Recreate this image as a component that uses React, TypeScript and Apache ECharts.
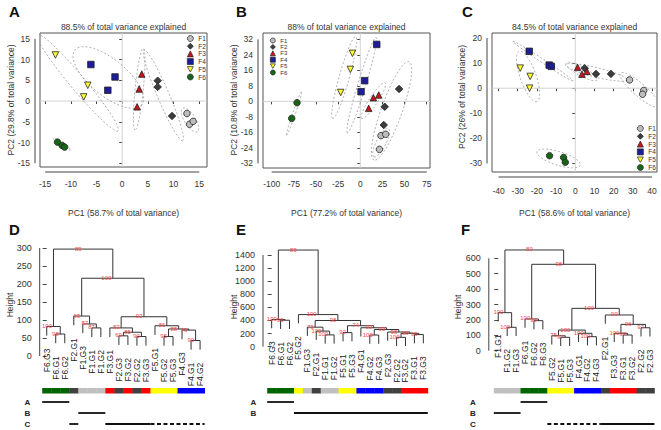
import React, { useEffect, useRef } from "react";
import * as echarts from "echarts";

const FONT = "Liberation Sans, Arial, Helvetica, sans-serif";

// ---------- groups ----------
const GROUPS = ["F1", "F2", "F3", "F4", "F5", "F6"];
const GROUP_FILL = ["#bdbdbd", "#3c3c3c", "#c4161c", "#1d1d9b", "#ffff33", "#176617"];
const GROUP_SYMBOL = ["circle", "diamond", "triangle", "rect", "path://M0,0 L10,0 L5,9 Z", "circle"];
const BAR_COLORS = ["#c0c0c0", "#404040", "#ff0000", "#0000ff", "#ffff00", "#006400"];

// ---------- PCA scores (PC1, PC2) per group F1..F6 ----------
const scoresA_F1 = [[12.6, -3.0], [13.1, -5.6], [13.8, -4.9]];
const scoresA_F2 = [[6.9, 4.9], [6.9, 3.4], [9.7, -3.6]];
const scoresA_F3 = [[3.8, 6.5], [3.3, 2.9], [2.9, -1.4]];
const scoresA_F4 = [[-6.1, 8.8], [-1.4, 5.8], [-2.8, 2.6]];
const scoresA_F5 = [[-13.0, 11.1], [-6.7, 3.8], [-7.5, 1.0]];
const scoresA_F6 = [[-12.6, -9.9], [-11.7, -10.7], [-11.2, -11.1]];

const scoresB_F1 = [[23.4, -17.7], [28.7, -17.0], [21.6, -24.8]];
const scoresB_F2 = [[43.8, 6.4], [27.6, -2.8], [26.5, -12.2]];
const scoresB_F3 = [[9.5, -3.6], [14.8, 1.9], [20.8, 3.3]];
const scoresB_F4 = [[18.6, 29.4], [5.0, 10.7], [0.9, 5.0]];
const scoresB_F5 = [[-8.9, 24.8], [-11.2, 16.5], [-22.1, 4.6]];
const scoresB_F6 = [[-71.4, -0.7], [-77.4, -8.8]];

const scoresC_F1 = [[28.3, 3.3], [35.7, -0.9], [35.1, -2.4]];
const scoresC_F2 = [[4.9, 8.0], [10.8, 5.7], [18.6, 5.7]];
const scoresC_F3 = [[1.2, 8.3], [3.5, 5.6], [6.1, 6.7]];
const scoresC_F4 = [[-24.0, 14.7], [-13.6, 9.2], [-12.5, 8.7]];
const scoresC_F5 = [[-28.7, 8.0], [-23.5, 4.7], [-23.8, 0.0]];
const scoresC_F6 = [[-13.4, -26.9], [-6.1, -27.6], [-5.2, -29.5]];

// confidence ellipses: major-axis end points (x1,y1,x2,y2) and minor/major ratio
const ellipsesA = [
  [-16.5, 16.0, -0.8, -7.2, 0.12],
  [-9.2, 12.3, 3.8, -0.95, 0.42],
  [4.1, 12.7, 2.5, -7.0, 0.1],
  [4.24, 12.3, 11.77, -9.56, 0.12],
  [11.77, -1.75, 14.62, -7.39, 0.4],
  [-13.41, -8.98, -10.02, -11.8, 0.15],
];
const ellipsesB = [
  [-66.1, 5.3, -83.1, -17.4, 0.06],
  [-5.2, 33.4, -31.1, -8.8, 0.12],
  [17.8, 33.0, -14.6, -16.2, 0.08],
  [28.0, 9.6, 1.6, -8.8, 0.2],
  [55.1, 20.5, 15.5, -30.3, 0.2],
  [31.7, -13.9, 15.5, -28.6, 0.3],
];
const ellipsesC = [
  [-32.5, 18.7, -1.2, 2.9, 0.05],
  [-29.2, 14.7, -20.0, -5.3, 0.3],
  [-4.7, 10.0, 11.3, 3.3, 0.25],
  [-5.2, 9.3, 27.0, 3.3, 0.15],
  [23.5, 6.0, 43.5, -7.3, 0.25],
  [-20.0, -25.3, 2.6, -30.7, 0.3],
];

// ---------- texts ----------
const panelLetters = ["A", "B", "C", "D", "E", "F"];
const pcaTitles = [
  "88.5% of total variance explained",
  "88% of total variance explained",
  "84.5% of total variance explained",
];
const pc1Labels = [
  "PC1 (58.7% of total variance)",
  "PC1 (77.2% of total variance)",
  "PC1 (58.6% of total variance)",
];
const pc2Labels = [
  "PC2 (29.8% of total variance)",
  "PC2 (10.8% of total variance)",
  "PC2 (26% of total variance)",
];

// ---------- tick labels ----------
const ticksAx = [-15, -10, -5, 0, 5, 10, 15];
const ticksAy = [-15, -10, -5, 0, 5, 10, 15];
const ticksBx = [-100, -75, -50, -25, 0, 25, 50, 75];
const ticksBy = [-32, -24, -16, -8, 0, 8, 16, 24, 32];
const ticksCx = [-40, -30, -20, -10, 0, 10, 20, 30, 40];
const ticksCy = [-30, -20, -10, 0, 10, 20];
const ticksD = [0, 50, 100, 150, 200, 250, 300];
const ticksE = [0, 200, 400, 600, 800, 1000, 1200, 1400];
const ticksF = [0, 100, 200, 300, 400, 500, 600];

// ---------- dendrograms: [height, AU bootstrap, left, right] ----------
type TNode = string | [number, number, TNode, TNode];

const treeD: TNode = [297, 89,
  [82, 100, "F6.G3", [61, 98, "F6.G1", "F6.G2"]],
  [216, 100,
    [111, 93, "F2.G1", [89, 87, "F1.G3", [78, 87, "F1.G1", "F1.G2"]]],
    [109, 93,
      [78, 83, "F3.G1", [66, 85, [56, 69, "F2.G3", "F3.G2"], [54, 90, "F2.G2", "F3.G3"]]],
      [84, 86, "F5.G1", [75, 88, [54, 95, "F5.G2", "F5.G3"], [72, 76, "F4.G3", [43, 90, "F4.G1", "F4.G2"]]]],
    ],
  ],
];

const treeE: TNode = [1475, 89,
  [414, 100, "F6.G3", [404, 95, "F6.G1", "F6.G2"]],
  [490, 100, "F5.G2",
    [400, 98,
      [298, 73, "F1.G3", [238, 100, "F2.G1", [180, 100, "F1.G1", "F1.G2"]]],
      [320, 74, [215, 92, "F5.G1", "F5.G3"],
        [289, 93, "F4.G1",
          [262, 93, [178, 100, "F4.G2", "F4.G3"],
            [224, 98, "F2.G3", [204, 98, [143, 100, "F2.G2", "F3.G2"], [185, 98, "F3.G1", "F3.G3"]]],
          ],
        ],
      ],
    ],
  ],
];

const treeF: TNode = [654, 89,
  [247, 100, "F1.G1", [152, 100, "F1.G2", "F1.G3"]],
  [561, 98,
    [206, 100, "F6.G1", [195, 99, "F6.G2", "F6.G3"]],
    [275, 100,
      [134, 100, [97, 75, "F5.G2", [87, 97, "F5.G1", "F5.G3"]], [113, 100, "F4.G1", [91, 100, "F4.G2", "F4.G3"]]],
      [232, 99, "F2.G1", [171, 96, [113, 100, "F3.G3", [102, 97, "F3.G1", "F3.G2"]], [149, 97, "F2.G2", "F2.G3"]]],
    ],
  ],
];

// ---------- cluster membership lines: [row, first leaf, last leaf, dashed] ----------
const rowsD = ["A", "B", "C"];
const clusterLinesD: [string, number, number, number][] = [
  ["A", 0, 2, 0], ["B", 4, 6, 0], ["C", 3, 3, 0], ["C", 7, 11, 0], ["C", 12, 17, 1],
];
const rowsE = ["A", "B"];
const clusterLinesE: [string, number, number, number][] = [["A", 0, 2, 0], ["B", 3, 17, 0]];
const rowsF = ["A", "B", "C"];
const clusterLinesF: [string, number, number, number][] = [
  ["A", 3, 5, 0], ["B", 0, 2, 0], ["C", 6, 11, 1], ["C", 12, 17, 0],
];

// ---------- layout (positions only) ----------
const SCATTER = [
  { left: 40, top: 33, width: 167, height: 134, xr: [-16, 16.5], yr: [-15.9, 16.4], xt: ticksAx, yt: ticksAy,
    scores: [scoresA_F1, scoresA_F2, scoresA_F3, scoresA_F4, scoresA_F5, scoresA_F6], ell: ellipsesA,
    xOff: 5, yOff: 5, xMargin: 7.5, legend: { left: 187, top: 35, gap: 0.7, size: 6, font: 6.5 }, ylabX: 11, ylabY: 100 },
  { left: 263, top: 33, width: 167, height: 135, xr: [-109.8, 78.7], yr: [-34.4, 35.3], xt: ticksBx, yt: ticksBy,
    scores: [scoresB_F1, scoresB_F2, scoresB_F3, scoresB_F4, scoresB_F5, scoresB_F6], ell: ellipsesB,
    xOff: 4, yOff: 5, xMargin: 7.5, legend: { left: 270, top: 37.5, gap: 0.4, size: 5, font: 6 }, ylabX: 234, ylabY: 100 },
  { left: 492, top: 33, width: 165, height: 139, xr: [-43.4, 42.6], yr: [-33.4, 22], xt: ticksCx, yt: ticksCy,
    scores: [scoresC_F1, scoresC_F2, scoresC_F3, scoresC_F4, scoresC_F5, scoresC_F6], ell: ellipsesC,
    xOff: 5, yOff: 5, xMargin: 9, legend: { left: 637, top: 125, gap: 0.8, size: 6, font: 6.5 }, ylabX: 462, ylabY: 97 },
];

const DENDRO = [
  { tree: treeD, left: 42.2, top: 248, width: 162.4, height: 108, ymax: 300, ticks: ticksD, yOff: 2.5,
    rows: rowsD, lines: clusterLinesD, rowMargin: 12, heightX: 10, heightY: 305 },
  { tree: treeE, left: 267.2, top: 248.4, width: 160.6, height: 98.3, ymax: 1500, ticks: ticksE, yOff: 4.2,
    rows: rowsE, lines: clusterLinesE, rowMargin: 11, heightX: 234, heightY: 307 },
  { tree: treeF, left: 493.8, top: 242.9, width: 160.6, height: 107.8, ymax: 700, ticks: ticksF, yOff: 5,
    rows: rowsF, lines: clusterLinesF, rowMargin: 18, heightX: 458, heightY: 307 },
];

function layoutTree(root: TNode) {
  const heights: number[] = [];
  const collect = (n: TNode) => {
    if (typeof n !== "string") { heights.push(n[0]); collect(n[2]); collect(n[3]); }
  };
  collect(root);
  const hang = 0.1 * (Math.max(...heights) - Math.min(...heights));
  const leaves: string[] = [];
  const bottoms: number[] = [];
  const merges: { xl: number; yl: number; xr: number; yr: number; h: number; x: number; b: number }[] = [];
  const walk = (n: TNode, parentH: number): { x: number; y: number } => {
    if (typeof n === "string") {
      const i = leaves.length;
      leaves.push(n);
      bottoms.push(parentH - hang);
      return { x: i, y: parentH - hang };
    }
    const l = walk(n[2], n[0]);
    const r = walk(n[3], n[0]);
    const x = (l.x + r.x) / 2;
    merges.push({ xl: l.x, yl: l.y, xr: r.x, yr: r.y, h: n[0], x, b: n[1] });
    return { x, y: n[0] };
  };
  walk(root, (root as any)[0]);
  return { leaves, bottoms, merges };
}

const plain = (v: number) => String(v);

function buildOption() {
  const grid: any[] = [];
  const xAxis: any[] = [];
  const yAxis: any[] = [];
  const series: any[] = [];
  const legend: any[] = [];
  const graphic: any[] = [];

  // ---------------- scatter panels ----------------
  SCATTER.forEach((P, k0) => {
    const k = grid.length;
    grid.push({ left: P.left, top: P.top, width: P.width, height: P.height, show: true,
      borderColor: "#555", borderWidth: 1, backgroundColor: "transparent" });
    xAxis.push({
      type: "value", gridIndex: k, min: P.xr[0], max: P.xr[1], offset: P.xOff,
      axisLine: { show: false },
      axisTick: { show: true, length: 3, customValues: P.xt, lineStyle: { color: "#444" } },
      axisLabel: { customValues: P.xt, formatter: plain, fontSize: 8.5, color: "#333", margin: P.xMargin, fontFamily: FONT },
      splitLine: { show: false },
    });
    yAxis.push({
      type: "value", gridIndex: k, min: P.yr[0], max: P.yr[1], offset: P.yOff,
      axisLine: { show: false },
      axisTick: { show: true, length: 3, customValues: P.yt, lineStyle: { color: "#444" } },
      axisLabel: { customValues: P.yt, formatter: plain, fontSize: 8.5, color: "#333", margin: 5, fontFamily: FONT },
      splitLine: { show: false },
    });
    // zero lines + R-style axis lines
    series.push({
      type: "custom", xAxisIndex: k, yAxisIndex: k, data: [[0, 0]], z: 1, silent: true,
      renderItem: (_p: any, api: any) => {
        const c00 = api.coord([P.xr[0], P.yr[0]]);
        const c11 = api.coord([P.xr[1], P.yr[1]]);
        const z0 = api.coord([0, 0]);
        const xa = api.coord([P.xt[0], P.yr[0]]);
        const xb = api.coord([P.xt[P.xt.length - 1], P.yr[0]]);
        const ya = api.coord([P.xr[0], P.yt[0]]);
        const yb = api.coord([P.xr[0], P.yt[P.yt.length - 1]]);
        const by = c00[1] + P.xOff;
        const lx = c00[0] - P.yOff;
        return {
          type: "group",
          children: [
            { type: "line", shape: { x1: c00[0], y1: z0[1], x2: c11[0], y2: z0[1] }, style: { stroke: "#d2d2d2", lineWidth: 1 } },
            { type: "line", shape: { x1: z0[0], y1: c00[1], x2: z0[0], y2: c11[1] }, style: { stroke: "#d2d2d2", lineWidth: 1 } },
            { type: "line", shape: { x1: xa[0], y1: by, x2: xb[0], y2: by }, style: { stroke: "#444", lineWidth: 1 } },
            { type: "line", shape: { x1: lx, y1: ya[1], x2: lx, y2: yb[1] }, style: { stroke: "#444", lineWidth: 1 } },
          ],
        };
      },
    });
    // ellipses
    series.push({
      type: "custom", xAxisIndex: k, yAxisIndex: k, clip: true, z: 2, silent: true,
      data: P.ell.map((e) => [(e[0] + e[2]) / 2, (e[1] + e[3]) / 2]),
      renderItem: (params: any, api: any) => {
        const e = P.ell[params.dataIndex];
        const p1 = api.coord([e[0], e[1]]);
        const p2 = api.coord([e[2], e[3]]);
        const cx = (p1[0] + p2[0]) / 2, cy = (p1[1] + p2[1]) / 2;
        const ux = (p2[0] - p1[0]) / 2, uy = (p2[1] - p1[1]) / 2;
        const vx = -uy * e[4], vy = ux * e[4];
        const pts: number[][] = [];
        for (let i = 0; i <= 90; i++) {
          const t = (i / 90) * 2 * Math.PI;
          pts.push([cx + ux * Math.cos(t) + vx * Math.sin(t), cy + uy * Math.cos(t) + vy * Math.sin(t)]);
        }
        return { type: "polyline", shape: { points: pts }, style: { stroke: "#9a9a9a", lineWidth: 0.8, lineDash: [2, 2], fill: null } };
      },
    });
    // points
    GROUPS.forEach((g, gi) => {
      series.push({
        type: "scatter", name: g, xAxisIndex: k, yAxisIndex: k, data: P.scores[gi], z: 5,
        symbol: GROUP_SYMBOL[gi], symbolSize: gi === 1 ? 7.5 : 6.5,
        itemStyle: { color: GROUP_FILL[gi], borderColor: "#222", borderWidth: 0.8, opacity: 1 },
        emphasis: { disabled: true },
      });
    });
    legend.push({
      data: GROUPS.map((g, gi) => ({
        name: g, icon: GROUP_SYMBOL[gi],
        itemStyle: { color: GROUP_FILL[gi], borderColor: "#222", borderWidth: 0.7 },
        textStyle: { color: "#333" },
      })),
      orient: "vertical", left: P.legend.left, top: P.legend.top, padding: 0,
      itemWidth: P.legend.size, itemHeight: P.legend.size, itemGap: P.legend.gap, selectedMode: false,
      textStyle: { fontSize: P.legend.font, color: "#333", fontFamily: FONT, lineHeight: P.legend.size },
    });
    const cxBox = P.left + P.width / 2;
    graphic.push({ type: "text", x: cxBox, y: 27, style: { text: pcaTitles[k0], fontSize: 8.5, fill: "#333", fontFamily: FONT, align: "center", verticalAlign: "middle" } });
    graphic.push({ type: "text", x: cxBox, y: 213, style: { text: pc1Labels[k0], fontSize: 8.5, fill: "#333", fontFamily: FONT, align: "center", verticalAlign: "middle" } });
    graphic.push({ type: "text", x: P.ylabX, y: P.ylabY, rotation: Math.PI / 2, style: { text: pc2Labels[k0], fontSize: 8.5, fill: "#333", fontFamily: FONT, align: "center", verticalAlign: "middle" } });
  });

  // ---------------- dendrograms ----------------
  DENDRO.forEach((D) => {
    const T = layoutTree(D.tree);
    const gi = grid.length;
    grid.push({ left: D.left, top: D.top, width: D.width, height: D.height });
    xAxis.push({ type: "value", gridIndex: gi, min: -0.5, max: 17.5, show: false });
    yAxis.push({
      type: "value", gridIndex: gi, min: 0, max: D.ymax, offset: D.yOff,
      axisLine: { show: false },
      axisTick: { show: true, length: 4, customValues: D.ticks, lineStyle: { color: "#444" } },
      axisLabel: { customValues: D.ticks, formatter: plain, fontSize: 9, color: "#333", margin: 8, fontFamily: FONT },
      splitLine: { show: false },
    });
    // axis line
    series.push({
      type: "custom", xAxisIndex: gi, yAxisIndex: gi, data: [[0, 0]], silent: true,
      renderItem: (_p: any, api: any) => {
        const a = api.coord([-0.5, D.ticks[0]]);
        const b = api.coord([-0.5, D.ticks[D.ticks.length - 1]]);
        return { type: "line", shape: { x1: a[0] - D.yOff, y1: a[1], x2: a[0] - D.yOff, y2: b[1] }, style: { stroke: "#444", lineWidth: 1 } };
      },
    });
    // tree
    series.push({
      type: "custom", xAxisIndex: gi, yAxisIndex: gi, silent: true, z: 3,
      data: T.merges.map((m) => [m.x, m.h]),
      renderItem: (params: any, api: any) => {
        const m = T.merges[params.dataIndex];
        const a = api.coord([m.xl, m.yl]);
        const b = api.coord([m.xl, m.h]);
        const c = api.coord([m.xr, m.h]);
        const d = api.coord([m.xr, m.yr]);
        const ctr = api.coord([m.x, m.h]);
        return {
          type: "group",
          children: [
            { type: "polyline", shape: { points: [a, b, c, d] }, style: { stroke: "#333", lineWidth: 1, fill: null } },
            { type: "text", x: ctr[0] - 1.5, y: ctr[1] - 0.5, z2: 10,
              style: { text: String(m.b), align: "right", verticalAlign: "middle", fontSize: 6, fill: "#f04848", fontFamily: FONT } },
          ],
        };
      },
    });
    // leaf labels
    series.push({
      type: "custom", xAxisIndex: gi, yAxisIndex: gi, silent: true, z: 3,
      data: T.leaves.map((_l, i) => [i, T.bottoms[i]]),
      renderItem: (params: any, api: any) => {
        const i = params.dataIndex;
        const p = api.coord([i, T.bottoms[i]]);
        return { type: "text", x: p[0], y: p[1] + 13, rotation: Math.PI / 2,
          style: { text: T.leaves[i], align: "right", verticalAlign: "middle", fontSize: 8.5, fill: "#222", fontFamily: FONT } };
      },
    });
    graphic.push({ type: "text", x: D.heightX, y: D.heightY, rotation: Math.PI / 2,
      style: { text: "Height", fontSize: 8.5, fill: "#333", fontFamily: FONT, align: "center", verticalAlign: "middle" } });

    // colour bar
    const bi = grid.length;
    grid.push({ left: D.left, top: 388, width: D.width, height: 5.5 });
    xAxis.push({ type: "value", gridIndex: bi, min: -0.5, max: 17.5, show: false });
    yAxis.push({ type: "value", gridIndex: bi, min: 0, max: 1, show: false });
    series.push({
      type: "custom", xAxisIndex: bi, yAxisIndex: bi, silent: true,
      data: T.leaves.map((_l, i) => [i, 0.5]),
      renderItem: (params: any, api: any) => {
        const i = params.dataIndex;
        const g = parseInt(T.leaves[i].charAt(1), 10) - 1;
        const a = api.coord([i - 0.5, 1]);
        const b = api.coord([i + 0.5, 0]);
        return { type: "rect", shape: { x: a[0], y: a[1], width: b[0] - a[0] + 0.4, height: b[1] - a[1] }, style: { fill: BAR_COLORS[g] } };
      },
    });

    // cluster membership lines
    const li = grid.length;
    grid.push({ left: D.left, top: 396.5, width: D.width, height: 11 * D.rows.length });
    xAxis.push({ type: "value", gridIndex: li, min: -0.5, max: 17.5, show: false });
    yAxis.push({
      type: "category", gridIndex: li, data: D.rows, inverse: true,
      axisLine: { show: false }, axisTick: { show: false },
      axisLabel: { fontSize: 8, color: "#222", margin: D.rowMargin, fontFamily: FONT, fontWeight: "bold" },
    });
    series.push({
      type: "custom", xAxisIndex: li, yAxisIndex: li, silent: true,
      data: D.lines.map((l) => [l[1], D.rows.indexOf(l[0])]),
      renderItem: (params: any, api: any) => {
        const l = D.lines[params.dataIndex];
        const r = D.rows.indexOf(l[0]);
        const a = api.coord([l[1] - 0.5, r]);
        const b = api.coord([l[2] + 0.5, r]);
        return { type: "line", shape: { x1: a[0], y1: a[1], x2: b[0], y2: b[1] },
          style: { stroke: "#111", lineWidth: 1.8, lineDash: l[3] ? [4, 2.5] : null } };
      },
    });
  });

  // panel letters
  const letterPos = [[9, 4], [236, 4], [462, 4], [9, 222], [236, 222], [461, 222]];
  panelLetters.forEach((t, i) => {
    graphic.push({ type: "text", x: letterPos[i][0], y: letterPos[i][1],
      style: { text: t, fontSize: 15, fontWeight: "bold", fill: "#111", fontFamily: FONT, align: "left", verticalAlign: "top" } });
  });

  return {
    animation: false,
    backgroundColor: "#ffffff",
    textStyle: { fontFamily: FONT },
    grid, xAxis, yAxis, series, legend, graphic,
  };
}

export default function App() {
  const ref = useRef<HTMLDivElement>(null);
  useEffect(() => {
    if (!ref.current) return;
    const chart = echarts.init(ref.current, undefined, { renderer: "svg" });
    chart.setOption(buildOption() as any);
    return () => chart.dispose();
  }, []);
  return (
    <div
      ref={ref}
      style={{ position: "absolute", left: 0, top: 0, width: 661, height: 430, background: "#fff" }}
    />
  );
}
